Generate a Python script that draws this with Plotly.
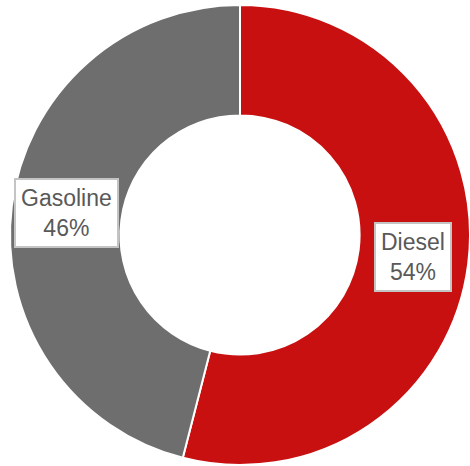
import math
import plotly.graph_objects as go

labels = ["Diesel", "Gasoline"]
values = [54, 46]
colors = ["#C81010", "#6E6E6E"]

W, H = 470, 466
ml, mr, mt, mb = 10, 0, 5, 1
pw, ph = W - ml - mr, H - mt - mb
R = min(pw, ph) / 2
hole = 0.52
label_r = R * (1 + hole) / 2

fig = go.Figure(go.Pie(
    labels=labels, values=values, hole=hole, sort=False,
    direction="clockwise", rotation=0,
    marker=dict(colors=colors, line=dict(color="white", width=2)),
    textinfo="none", hoverinfo="label+percent", showlegend=False,
))

total = sum(values)
cum = 0
annotations = []
for lab, v in zip(labels, values):
    mid = (cum + v / 2) / total * 2 * math.pi
    cum += v
    x = 0.5 + label_r * math.sin(mid) / pw
    y = 0.5 + label_r * math.cos(mid) / ph
    annotations.append(dict(
        x=x, y=y, xref="paper", yref="paper", showarrow=False,
        xanchor="center", yanchor="middle",
        text=f"{lab}<br>{round(v / total * 100)}%",
        font=dict(family="Liberation Sans, Arial", size=23, color="#595959"),
        bgcolor="white", bordercolor="#C4C4C4", borderwidth=2, borderpad=5,
        align="center",
    ))

fig.update_layout(
    width=W, height=H,
    margin=dict(l=ml, r=mr, t=mt, b=mb),
    paper_bgcolor="white", plot_bgcolor="white",
    annotations=annotations,
)
fig.write_html("out.html", config={"displayModeBar": False},
               post_script="document.body.style.margin='0';")
